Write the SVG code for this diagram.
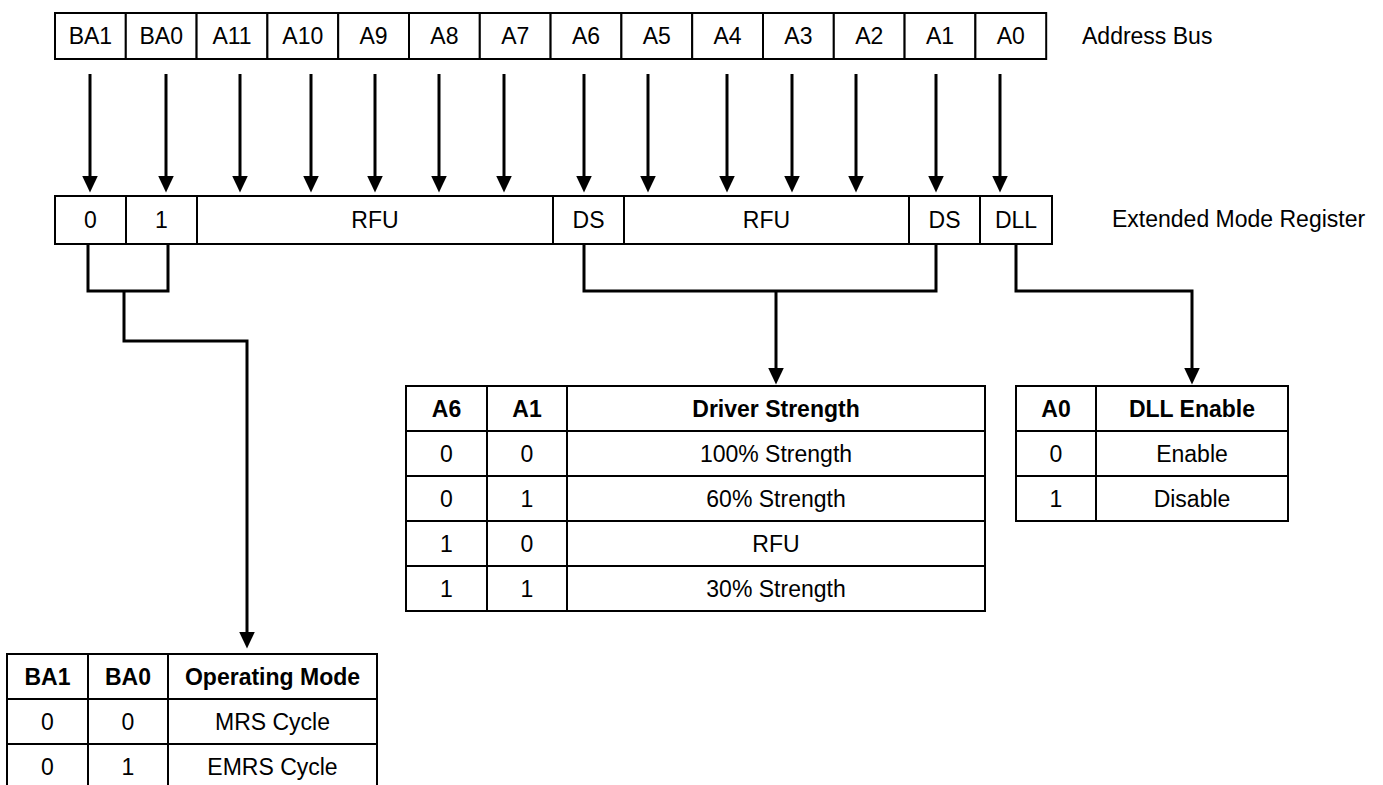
<svg xmlns="http://www.w3.org/2000/svg" width="1383" height="785" viewBox="0 0 1383 785">
<style>
text { font-family: "Liberation Sans", Arial, sans-serif; font-size: 23px; fill: #000; text-anchor: middle; }
.lbl { text-anchor: start; }
.b { font-weight: bold; }
.box { fill: #fff; stroke: #000; stroke-width: 2; }
.grid { fill: none; stroke: #000; stroke-width: 2; }
.ln { fill: none; stroke: #000; stroke-width: 3; stroke-linejoin: miter; }
.arr { fill: none; stroke: #000; stroke-width: 3; marker-end: url(#ah); }
</style>
<defs>
<marker id="ah" markerUnits="userSpaceOnUse" markerWidth="17" markerHeight="16" viewBox="0 0 17 16" refX="0.5" refY="8" orient="auto">
<path d="M0,0 L17,8 L0,16 z" fill="#000"/>
</marker>
</defs>

<g id="address-bus">
<g id="addr-BA1"><rect class="box" x="55" y="13" width="70.8" height="46"/><text x="90.4" y="44">BA1</text></g>
<g id="addr-BA0"><rect class="box" x="125.8" y="13" width="70.8" height="46"/><text x="161.2" y="44">BA0</text></g>
<g id="addr-A11"><rect class="box" x="196.6" y="13" width="70.8" height="46"/><text x="232" y="44">A11</text></g>
<g id="addr-A10"><rect class="box" x="267.4" y="13" width="70.8" height="46"/><text x="302.8" y="44">A10</text></g>
<g id="addr-A9"><rect class="box" x="338.2" y="13" width="70.8" height="46"/><text x="373.6" y="44">A9</text></g>
<g id="addr-A8"><rect class="box" x="409" y="13" width="70.8" height="46"/><text x="444.4" y="44">A8</text></g>
<g id="addr-A7"><rect class="box" x="479.8" y="13" width="70.8" height="46"/><text x="515.2" y="44">A7</text></g>
<g id="addr-A6"><rect class="box" x="550.6" y="13" width="70.8" height="46"/><text x="586" y="44">A6</text></g>
<g id="addr-A5"><rect class="box" x="621.4" y="13" width="70.8" height="46"/><text x="656.8" y="44">A5</text></g>
<g id="addr-A4"><rect class="box" x="692.2" y="13" width="70.8" height="46"/><text x="727.6" y="44">A4</text></g>
<g id="addr-A3"><rect class="box" x="763" y="13" width="70.8" height="46"/><text x="798.4" y="44">A3</text></g>
<g id="addr-A2"><rect class="box" x="833.8" y="13" width="70.8" height="46"/><text x="869.2" y="44">A2</text></g>
<g id="addr-A1"><rect class="box" x="904.6" y="13" width="70.8" height="46"/><text x="940" y="44">A1</text></g>
<g id="addr-A0"><rect class="box" x="975.4" y="13" width="70.8" height="46"/><text x="1010.8" y="44">A0</text></g>
</g>
<g id="label-address-bus"><text class="lbl" x="1082" y="44">Address Bus</text></g>

<g id="register">
<g id="reg-BA1"><rect class="box" x="55" y="196" width="71" height="48"/><text x="90.5" y="228">0</text></g>
<g id="reg-BA0"><rect class="box" x="126" y="196" width="71" height="48"/><text x="161.5" y="228">1</text></g>
<g id="reg-RFU1"><rect class="box" x="197" y="196" width="356" height="48"/><text x="375" y="228">RFU</text></g>
<g id="reg-DS6"><rect class="box" x="553" y="196" width="71" height="48"/><text x="588.5" y="228">DS</text></g>
<g id="reg-RFU2"><rect class="box" x="624" y="196" width="285" height="48"/><text x="766.5" y="228">RFU</text></g>
<g id="reg-DS1"><rect class="box" x="909" y="196" width="71" height="48"/><text x="944.5" y="228">DS</text></g>
<g id="reg-DLL"><rect class="box" x="980" y="196" width="72" height="48"/><text x="1016" y="228">DLL</text></g>
</g>
<g id="label-emr"><text class="lbl" x="1112" y="227">Extended Mode Register</text></g>

<g id="connectors">
<path class="arr" d="M90,74 V176"/>
<path class="arr" d="M166,74 V176"/>
<path class="arr" d="M240,74 V176"/>
<path class="arr" d="M311,74 V176"/>
<path class="arr" d="M375,74 V176"/>
<path class="arr" d="M439,74 V176"/>
<path class="arr" d="M504,74 V176"/>
<path class="arr" d="M584,74 V176"/>
<path class="arr" d="M648,74 V176"/>
<path class="arr" d="M727,74 V176"/>
<path class="arr" d="M792,74 V176"/>
<path class="arr" d="M856,74 V176"/>
<path class="arr" d="M936,74 V176"/>
<path class="arr" d="M1000,74 V176"/>
<path class="ln" d="M88,244 V291 H168 V244"/>
<path class="arr" d="M124,291 V341 H247 V632"/>
<path class="ln" d="M584,244 V291 H936 V244"/>
<path class="arr" d="M776,291 V368"/>
<path class="arr" d="M1016,244 V291 H1192 V368"/>
</g>

<g id="table-driver-strength">
<rect class="grid" x="406" y="386" width="579" height="225"/>
<path class="grid" d="M487,386 V611 M567,386 V611 M406,431 H985 M406,476 H985 M406,521 H985 M406,566 H985"/>
<text class="b" x="446.5" y="416.5">A6</text><text class="b" x="527" y="416.5">A1</text><text class="b" x="776" y="416.5">Driver Strength</text>
<text x="446.5" y="461.5">0</text><text x="527" y="461.5">0</text><text x="776" y="461.5">100% Strength</text>
<text x="446.5" y="506.5">0</text><text x="527" y="506.5">1</text><text x="776" y="506.5">60% Strength</text>
<text x="446.5" y="551.5">1</text><text x="527" y="551.5">0</text><text x="776" y="551.5">RFU</text>
<text x="446.5" y="596.5">1</text><text x="527" y="596.5">1</text><text x="776" y="596.5">30% Strength</text>
</g>

<g id="table-dll">
<rect class="grid" x="1016" y="386" width="272" height="135"/>
<path class="grid" d="M1096,386 V521 M1016,431 H1288 M1016,476 H1288"/>
<text class="b" x="1056" y="416.5">A0</text><text class="b" x="1192" y="416.5">DLL Enable</text>
<text x="1056" y="461.5">0</text><text x="1192" y="461.5">Enable</text>
<text x="1056" y="506.5">1</text><text x="1192" y="506.5">Disable</text>
</g>

<g id="table-operating-mode">
<path class="grid" d="M7,800 V654 H377 V800 M88,654 V800 M168,654 V800 M7,699 H377 M7,744 H377"/>
<text class="b" x="47.5" y="684.5">BA1</text><text class="b" x="128" y="684.5">BA0</text><text class="b" x="272.5" y="684.5">Operating Mode</text>
<text x="47.5" y="729.5">0</text><text x="128" y="729.5">0</text><text x="272.5" y="729.5">MRS Cycle</text>
<text x="47.5" y="774.5">0</text><text x="128" y="774.5">1</text><text x="272.5" y="774.5">EMRS Cycle</text>
</g>
</svg>
